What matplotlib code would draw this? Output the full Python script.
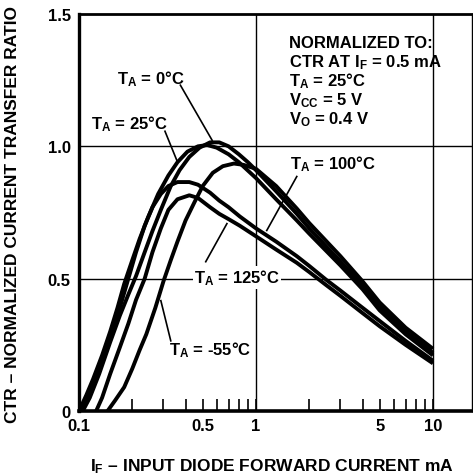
import numpy as np
import matplotlib
matplotlib.use("Agg")
import matplotlib.pyplot as plt
from matplotlib.ticker import FixedLocator, NullFormatter

plt.rcParams['font.family'] = ['Liberation Sans', 'DejaVu Sans']
plt.rcParams['font.weight'] = 'bold'
plt.rcParams['mathtext.fontset'] = 'custom'
plt.rcParams['mathtext.rm'] = 'Liberation Sans:bold'
plt.rcParams['mathtext.it'] = 'Liberation Sans:bold'
plt.rcParams['mathtext.bf'] = 'Liberation Sans:bold'

# curves: forward current (mA) -> normalized CTR
if_25 = [0.1, 0.11, 0.12, 0.135, 0.15, 0.165, 0.18, 0.2, 0.22, 0.245, 0.28, 0.32, 0.36, 0.41, 0.47,
         0.53, 0.6, 0.7, 0.8, 1.0, 1.3, 1.7, 2.0, 3.0, 4.0, 5.0, 7.0, 10.0]
ctr_25 = [0.0, 0.06, 0.12, 0.21, 0.3, 0.39, 0.48, 0.57, 0.65, 0.73, 0.82, 0.89, 0.94, 0.98, 1.0,
          1.005, 0.995, 0.97, 0.94, 0.88, 0.8, 0.72, 0.67, 0.55, 0.46, 0.38, 0.29, 0.21]

if_0 = [0.105, 0.115, 0.13, 0.15, 0.17, 0.19, 0.21, 0.235, 0.26, 0.29, 0.33, 0.37, 0.42, 0.48,
        0.55, 0.62, 0.7, 0.8, 0.9, 1.0, 1.3, 1.7, 2.0, 3.0, 4.0, 5.0, 7.0, 10.0]
ctr_0 = [0.0, 0.05, 0.14, 0.26, 0.36, 0.44, 0.51, 0.6, 0.68, 0.76, 0.85, 0.91, 0.96, 0.995,
         1.015, 1.015, 1.0, 0.97, 0.94, 0.91, 0.83, 0.745, 0.69, 0.565, 0.475, 0.395, 0.3, 0.22]

if_m55 = [0.145, 0.16, 0.18, 0.2, 0.22, 0.24, 0.27, 0.3, 0.33, 0.36, 0.4, 0.45, 0.5, 0.57, 0.65,
          0.75, 0.85, 1.0, 1.3, 1.7, 2.0, 3.0, 4.0, 5.0, 7.0, 10.0]
ctr_m55 = [0.0, 0.04, 0.09, 0.16, 0.23, 0.29, 0.39, 0.49, 0.57, 0.64, 0.72, 0.79, 0.85, 0.9, 0.925,
           0.935, 0.93, 0.915, 0.85, 0.765, 0.71, 0.585, 0.49, 0.41, 0.315, 0.235]

if_100 = [0.102, 0.11, 0.12, 0.135, 0.15, 0.17, 0.19, 0.21, 0.235, 0.26, 0.29, 0.32, 0.36, 0.42,
          0.47, 0.55, 0.62, 0.7, 0.81, 1.0, 1.3, 1.7, 2.0, 2.5, 3.0, 4.0, 5.0, 7.0, 10.0]
ctr_100 = [0.0, 0.045, 0.1, 0.19, 0.28, 0.39, 0.5, 0.6, 0.7, 0.77, 0.82, 0.85, 0.865, 0.865,
           0.855, 0.825, 0.795, 0.77, 0.735, 0.69, 0.64, 0.585, 0.548, 0.495, 0.455, 0.39, 0.34, 0.265, 0.19]

if_125 = [0.125, 0.135, 0.15, 0.17, 0.19, 0.21, 0.235, 0.26, 0.29, 0.32, 0.36, 0.42, 0.47, 0.55,
          0.62, 0.7, 0.81, 1.0, 1.3, 1.7, 2.0, 2.5, 3.0, 4.0, 5.0, 7.0, 10.0]
ctr_125 = [0.0, 0.05, 0.14, 0.24, 0.33, 0.42, 0.5, 0.6, 0.69, 0.76, 0.8, 0.815, 0.805, 0.77,
           0.745, 0.725, 0.70, 0.66, 0.61, 0.56, 0.525, 0.475, 0.435, 0.37, 0.32, 0.25, 0.18]

x_ticks = [0.1, 0.5, 1, 5, 10]
x_ticklabels = ['0.1', '0.5', '1', '5', '10']
x_minor = [0.2, 0.3, 0.4, 0.6, 0.7, 0.8, 0.9, 2, 3, 4, 6, 7, 8, 9]
y_ticks = [0, 0.5, 1.0, 1.5]
y_ticklabels = ['0', '0.5', '1.0', '1.5']

note_lines = ['NORMALIZED TO:',
              r'CTR AT I$_\mathrm{F}$ = 0.5 mA',
              r'T$_\mathrm{A}$ = 25°C',
              r'V$_\mathrm{CC}$ = 5 V',
              r'V$_\mathrm{O}$ = 0.4 V']

W, H = 473, 477
fs = 12
fig = plt.figure(figsize=(W / 100, H / 100), dpi=100)
ax = fig.add_axes([79 / W, 1 - 412 / H, (472 - 79) / W, (412 - 15) / H])

ax.set_xscale('log')
ax.set_xlim(0.1, 0.1 * 10 ** (393 / 177))
ax.set_ylim(0, 1.5)

for xs, ys in [(if_25, ctr_25), (if_0, ctr_0), (if_m55, ctr_m55), (if_100, ctr_100), (if_125, ctr_125)]:
    ax.plot(xs, ys, color='black', lw=2.8, solid_joinstyle='round', solid_capstyle='butt', zorder=3)

for gx in [1, 10]:
    ax.axvline(gx, color='black', lw=1.0, zorder=1)
for gy in [0.5, 1.0]:
    ax.axhline(gy, color='black', lw=1.0, zorder=1)

ax.spines['left'].set_linewidth(2.4)
ax.spines['bottom'].set_linewidth(2.6)
ax.spines['top'].set_linewidth(2.0)
ax.spines['right'].set_linewidth(1.0)

ax.xaxis.set_major_locator(FixedLocator(x_ticks))
ax.set_xticklabels(x_ticklabels)
ax.xaxis.set_minor_locator(FixedLocator(x_minor))
ax.xaxis.set_minor_formatter(NullFormatter())
ax.tick_params(axis='x', which='both', direction='in', length=9, width=1.2, top=False,
               labelsize=fs, pad=5)
ax.set_yticks(y_ticks)
ax.set_yticklabels(y_ticklabels)
ax.tick_params(axis='y', which='both', length=0, labelsize=fs, pad=6)

# curve labels and leaders
def label(txt, tx, ty, x0, y0, x1, y1, box=False):
    kw = {}
    if box:
        kw['bbox'] = dict(facecolor='white', edgecolor='none', pad=1)
    ax.text(tx, ty, txt, ha='center', va='center', fontsize=fs, zorder=5, **kw)
    ax.plot([x0, x1], [y0, y1], color='black', lw=1.2, zorder=4)

label(r'T$_\mathrm{A}$ = 0°C', 0.255, 1.258, 0.374, 1.231, 0.565, 1.023)
label(r'T$_\mathrm{A}$ = 25°C', 0.192, 1.087, 0.306, 1.057, 0.357, 0.947)
label(r'T$_\mathrm{A}$ = 100°C', 2.73, 0.936, 1.70, 0.886, 1.15, 0.682)
label(r'T$_\mathrm{A}$ = 125°C', 0.781, 0.505, 0.52, 0.564, 0.685, 0.708, box=True)
label(r'T$_\mathrm{A}$ = -55°C', 0.55, 0.235, 0.33, 0.265, 0.29, 0.417)

baselines = [48, 67, 86, 105, 124]
for line, b in zip(note_lines, baselines):
    fig.text(289 / W, 1 - b / H, line, ha='left', va='baseline', fontsize=fs)

fig.text(272 / W, 1 - 467 / H, r'I$_\mathrm{F}$ – INPUT DIODE FORWARD CURRENT mA',
         ha='center', va='center', fontsize=12.5)
fig.text(13 / W, 1 - 423 / H, 'CTR – NORMALIZED CURRENT TRANSFER RATIO',
         ha='center', va='bottom', rotation=90, fontsize=12.5)

fig.savefig('out.png', dpi=100)
